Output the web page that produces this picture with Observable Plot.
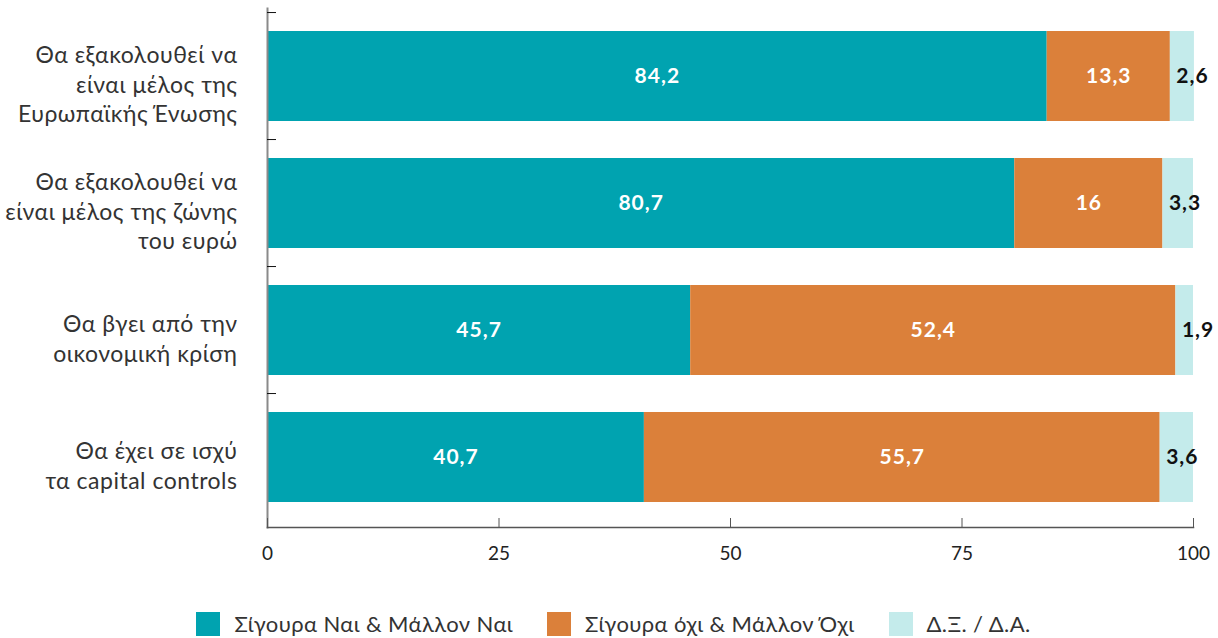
<!DOCTYPE html>
<html>
<head>
<meta charset="utf-8">
<script src="https://cdn.jsdelivr.net/npm/d3@7"></script>
<script src="https://cdn.jsdelivr.net/npm/@observablehq/plot@0.6"></script>
<style>
  body { margin: 0; background: #fff; font-family: Lato, "Noto Sans", sans-serif; }
  #chart svg { display: block; }
  #chart svg g[aria-label="y-axis tick label"] text { letter-spacing: 0.5px; }
  #chart svg g[aria-label="text"] text { letter-spacing: 1px; }
  .legend { display: flex; justify-content: center; align-items: center; height: 25px; margin-top: 36px; padding-left: 9px; font-size: 22px; letter-spacing: 0.4px; color: #333; }
  .legend .item { display: flex; align-items: center; margin: 0 17px; }
  .legend .sw { width: 24px; height: 24px; margin-right: 14px; }
</style>
</head>
<body>
<div id="chart"></div>
<script>
const categories = [
  "Θα εξακολουθεί να είναι μέλος της Ευρωπαϊκής Ένωσης",
  "Θα εξακολουθεί να είναι μέλος της ζώνης του ευρώ",
  "Θα βγει από την οικονομική κρίση",
  "Θα έχει σε ισχύ τα capital controls"
];
const categoryLabels = [
  "Θα εξακολουθεί να\nείναι μέλος της\nΕυρωπαϊκής Ένωσης",
  "Θα εξακολουθεί να\nείναι μέλος της ζώνης\nτου ευρώ",
  "Θα βγει από την\nοικονομική κρίση",
  "Θα έχει σε ισχύ\nτα capital controls"
];
const series = ["Σίγουρα Ναι & Μάλλον Ναι", "Σίγουρα όχι & Μάλλον Όχι", "Δ.Ξ. / Δ.Α."];
const yesValues = [84.2, 80.7, 45.7, 40.7];
const noValues = [13.3, 16, 52.4, 55.7];
const dkValues = [2.6, 3.3, 1.9, 3.6];
const xTicks = [0, 25, 50, 75, 100];
const colors = ["#00A3B0", "#DB803A", "#C4EBEB"];

const valuesBySeries = [yesValues, noValues, dkValues];
const rows = [];
categories.forEach((c, i) => {
  series.forEach((s, j) => rows.push({category: c, series: s, value: valuesBySeries[j][i]}));
});
const fmt = v => String(v).replace(".", ",");
const labelOf = new Map(categories.map((c, i) => [c, categoryLabels[i]]));

const W = 1218, H = 575, mT = 8, mB = 48, insT = 2, insB = 4, pIn = 0.29, pOut = 0.15;
const rangeLen = (H - mB - insB) - (mT + insT);
const step = rangeLen / (categories.length - pIn + 2 * pOut);

const plot = Plot.plot({
  width: W,
  height: H,
  marginTop: mT,
  marginBottom: mB,
  marginLeft: 267,
  marginRight: 25,
  style: {fontFamily: "Lato, 'Noto Sans', sans-serif", background: "#fff"},
  x: {domain: [0, 100], label: null},
  y: {domain: categories, paddingInner: pIn, paddingOuter: pOut, insetTop: insT, insetBottom: insB, label: null},
  color: {domain: series, range: colors},
  marks: [
    Plot.barX(rows, Plot.stackX({x: "value", y: "category", fill: "series", order: series})),
    Plot.text(rows, Plot.stackX({
      x: "value", y: "category", z: "series", order: series,
      text: d => d.series !== series[2] ? fmt(d.value) : "",
      fill: "#fff", fontSize: 21, fontWeight: 700
    })),
    Plot.text(rows, Plot.stackX1({
      x: "value", y: "category", z: "series", order: series,
      text: d => d.series === series[2] ? fmt(d.value) : "",
      fill: "#111", fontSize: 21, fontWeight: 700, textAnchor: "start", dx: 6
    })),
    Plot.frame({anchor: "left", stroke: "#8a8a8a", strokeWidth: 2}),
    Plot.frame({anchor: "bottom", stroke: "#555", strokeWidth: 1.5}),
    Plot.axisY({tickSize: 0, tickPadding: 30, tickFormat: d => labelOf.get(d), fontSize: 23, lineHeight: 1.28, dy: 7, fill: "#333", label: null}),
    Plot.axisY({tickSize: -9, tickFormat: () => "", dy: -step / 2, stroke: "#111", label: null}),
    Plot.axisX({ticks: xTicks, tickSize: -9, tickPadding: 27.5, fontSize: 19, stroke: "#555", fill: "#222", label: null})
  ]
});
document.getElementById("chart").appendChild(plot);

const legend = document.createElement("div");
legend.className = "legend";
series.forEach((s, i) => {
  const item = document.createElement("div");
  item.className = "item";
  const sw = document.createElement("span");
  sw.className = "sw";
  sw.style.background = colors[i];
  const t = document.createElement("span");
  t.textContent = s;
  item.appendChild(sw);
  item.appendChild(t);
  legend.appendChild(item);
});
document.body.appendChild(legend);
</script>
</body>
</html>
